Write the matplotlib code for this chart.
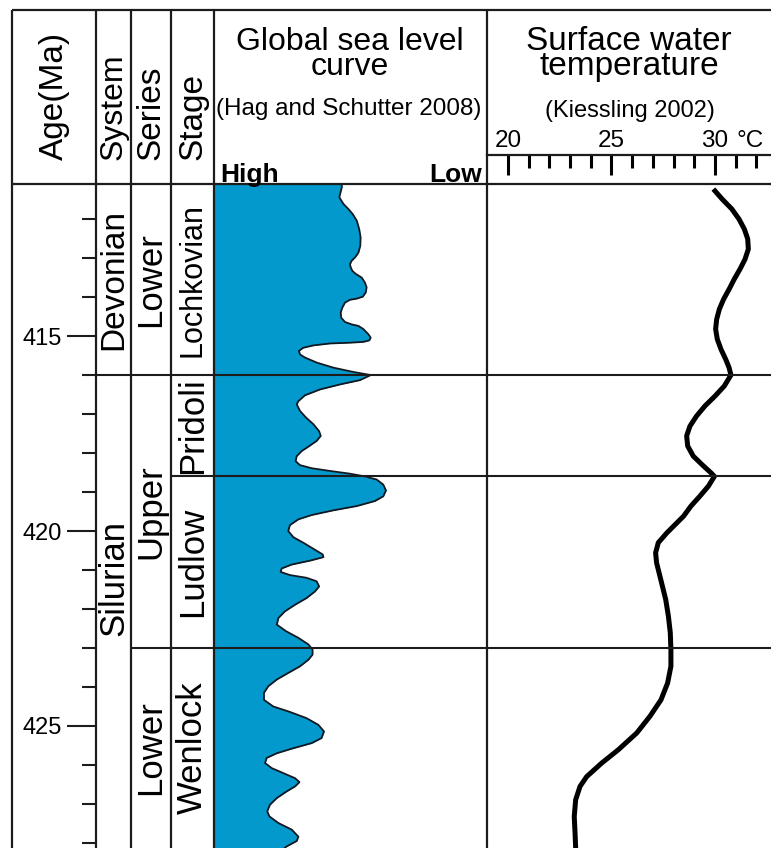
import matplotlib
matplotlib.use("Agg")
import matplotlib.pyplot as plt
from matplotlib.ticker import FixedLocator, MultipleLocator

plt.rcParams['font.family'] = ['Liberation Sans', 'DejaVu Sans']

# ---- data (ages in Ma) ----
age_top = 411.1
age_bottom = 428.13

system_names = ['Devonian', 'Silurian']
system_base = [416.0, 443.7]
series_names = ['Lower', 'Upper', 'Lower']
series_base = [416.0, 423.0, 428.2]
stage_names = ['Lochkovian', 'Pridoli', 'Ludlow', 'Wenlock']
stage_base = [416.0, 418.6, 423.0, 428.2]

# global sea level (0 = high, 100 = low)
sea_age = [411.08, 411.19, 411.44, 411.61, 411.74, 411.87, 412.04, 412.26, 412.47, 412.68,
           412.86, 412.98, 413.07, 413.16, 413.24, 413.33, 413.41, 413.50, 413.63, 413.75,
           413.88, 413.99, 414.04, 414.07, 414.14, 414.27, 414.40, 414.53, 414.64, 414.70,
           414.74, 414.82, 414.95, 415.04, 415.11, 415.15, 415.17, 415.19, 415.24, 415.30,
           415.38, 415.47, 415.55, 415.68, 415.81, 415.92, 416.00, 416.13, 416.24, 416.37,
           416.52, 416.67, 416.75, 416.92, 417.09, 417.26, 417.44, 417.56, 417.69, 417.82,
           417.95, 418.08, 418.21, 418.31, 418.39, 418.46, 418.53, 418.60, 418.68, 418.81,
           418.96, 419.11, 419.23, 419.36, 419.47, 419.59, 419.70, 419.85, 420.00, 420.16,
           420.30, 420.48, 420.60, 420.67, 420.76, 420.86, 420.96, 421.05, 421.13, 421.20,
           421.29, 421.42, 421.55, 421.72, 421.89, 422.06, 422.23, 422.40, 422.57, 422.74,
           422.91, 423.04, 423.17, 423.30, 423.47, 423.64, 423.81, 423.98, 424.15, 424.33,
           424.50, 424.64, 424.80, 424.97, 425.14, 425.31, 425.44, 425.57, 425.70, 425.82,
           425.95, 426.08, 426.21, 426.34, 426.44, 426.55, 426.68, 426.85, 427.02, 427.19,
           427.32, 427.49, 427.66, 427.84, 427.95, 428.09, 428.15]
sea_level = [46.8, 46.8, 45.9, 47.4, 49.2, 50.8, 52.3, 53.2, 53.7, 53.6,
             52.9, 51.7, 50.4, 49.8, 50.1, 50.7, 52.0, 54.1, 55.3, 55.9,
             55.6, 54.5, 52.3, 49.8, 48.0, 47.0, 46.4, 46.6, 48.0, 50.4,
             52.9, 54.7, 56.5, 57.4, 56.9, 54.7, 49.8, 42.5, 36.4, 32.7,
             31.1, 31.5, 33.3, 37.6, 43.7, 51.0, 57.4, 53.5, 46.2, 38.8,
             33.3, 30.9, 30.3, 31.5, 33.7, 36.4, 38.5, 39.1, 37.6, 34.9,
             32.1, 30.3, 29.9, 31.5, 35.8, 42.5, 49.8, 55.3, 59.6, 62.0,
             63.0, 62.0, 59.0, 52.3, 43.7, 35.8, 30.9, 27.8, 27.2, 29.1,
             32.7, 37.0, 39.8, 40.1, 35.2, 28.5, 24.8, 24.4, 27.8, 33.9,
             37.6, 38.5, 37.0, 33.9, 29.7, 26.0, 23.6, 23.0, 26.4, 30.9,
             34.6, 36.1, 36.1, 34.6, 31.5, 27.2, 23.0, 19.9, 18.3, 18.3,
             21.7, 27.8, 33.9, 38.2, 40.3, 39.4, 35.8, 29.1, 23.0, 19.3,
             18.7, 21.1, 25.4, 29.7, 31.3, 29.7, 26.6, 23.0, 20.5, 19.5,
             20.3, 23.6, 28.5, 30.9, 30.3, 26.6, 25.5]

# surface water temperature (deg C)
temp_age = [411.23, 411.49, 411.74, 412.00, 412.26, 412.51, 412.77, 413.03, 413.28, 413.54,
            413.80, 414.05, 414.31, 414.57, 414.82, 415.08, 415.34, 415.60, 415.81, 416.00,
            416.28, 416.54, 416.79, 417.05, 417.31, 417.56, 417.82, 418.08, 418.33, 418.51,
            418.60, 418.85, 419.10, 419.36, 419.62, 420.05, 420.30, 420.56, 420.82, 421.33,
            421.76, 422.19, 422.61, 423.04, 423.47, 423.90, 424.33, 424.75, 425.18, 425.61,
            425.95, 426.30, 426.55, 426.89, 427.32, 427.75, 428.15]
temp_c = [29.92, 30.35, 30.81, 31.16, 31.42, 31.58, 31.61, 31.45, 31.21, 30.93,
          30.68, 30.42, 30.21, 30.08, 30.03, 30.11, 30.29, 30.52, 30.68, 30.77,
          30.45, 30.00, 29.52, 29.11, 28.79, 28.63, 28.68, 28.95, 29.44, 29.81,
          29.97, 29.68, 29.28, 28.84, 28.48, 27.67, 27.26, 27.13, 27.18, 27.42,
          27.62, 27.75, 27.84, 27.87, 27.87, 27.71, 27.39, 26.86, 26.22, 25.33,
          24.53, 23.80, 23.48, 23.27, 23.20, 23.24, 23.27]

temp_ticks = [20, 25, 30]
age_ticks = [415, 420, 425]

# ---- layout (pixels) ----
W, H = 771, 848
TOP, HEAD, BOT = 10, 184, 848
col_x = [12, 96, 131, 171, 214, 487]
LINE = '#1c1c1c'
BLUE = '#0499cd'


def box(x0, y0, x1, y1):
    return [x0 / W, 1 - y1 / H, (x1 - x0) / W, (y1 - y0) / H]


fig = plt.figure(figsize=(W / 100, H / 100), dpi=100)

# stratigraphic columns
ax_st = fig.add_axes(box(96, HEAD, 214, BOT), zorder=2)
ax_st.set_facecolor('none')
ax_st.set_xlim(96, 214)
ax_st.set_ylim(age_bottom, age_top)
for s in ax_st.spines.values():
    s.set_visible(False)
ax_st.set_xticks([])
ax_st.yaxis.set_major_locator(FixedLocator(age_ticks))
ax_st.yaxis.set_minor_locator(MultipleLocator(1))
ax_st.tick_params(axis='y', which='major', direction='out', length=21, width=1.5,
                  color=LINE, labelsize=17, pad=3.5)
ax_st.tick_params(axis='y', which='minor', direction='out', length=10, width=1.5, color=LINE)


def unit_column(names, bases, x0, x1, sizes, label_at=None):
    top = age_top
    for name, base in zip(names, bases):
        if base < age_bottom:
            ax_st.hlines(base, x0, x1, color=LINE, lw=1.5)
        lo, hi = max(top, age_top), min(base, age_bottom)
        mid = (lo + hi) / 2
        if label_at and name in label_at:
            mid = label_at[name]
        ax_st.text((x0 + x1) / 2, mid, name, rotation=90, ha='center', va='center',
                   fontsize=sizes.get(name, 25))
        top = base


unit_column(system_names, system_base, 96, 131, {'Devonian': 24, 'Silurian': 25},
            label_at={'Silurian': 421.2})
unit_column(series_names, series_base, 131, 171, {})
unit_column(stage_names, stage_base, 171, 214, {'Lochkovian': 22})

# sea level panel
ax_sea = fig.add_axes(box(214, HEAD, 487, BOT), zorder=1)
ax_sea.set_xlim(0, 100)
ax_sea.set_ylim(age_bottom, age_top)
ax_sea.fill_betweenx(sea_age, 0, sea_level, color=BLUE, lw=0)
ax_sea.plot(sea_level, sea_age, color='#101820', lw=1.3)
for b in stage_base:
    if b < age_bottom:
        ax_sea.axhline(b, color=LINE, lw=1.5)
ax_sea.axis('off')

# temperature panel
t_lo, t_hi = 18.986, 32.705
ax_t = fig.add_axes(box(487, HEAD, 771, BOT), zorder=1)
ax_t.set_xlim(t_lo, t_hi)
ax_t.set_ylim(age_bottom, age_top)
ax_t.plot(temp_c, temp_age, color='black', lw=3.6, solid_capstyle='butt',
          solid_joinstyle='round')
for b in stage_base:
    if b < age_bottom:
        ax_t.axhline(b, color=LINE, lw=1.5)
ax_t.axis('off')

# temperature scale in header
ax_th = fig.add_axes(box(487, 155, 771, HEAD), zorder=1)
ax_th.set_facecolor('none')
ax_th.set_xlim(t_lo, t_hi)
ax_th.set_yticks([])
for k, s in ax_th.spines.items():
    s.set_visible(k == 'top')
ax_th.spines['top'].set_linewidth(1.6)
ax_th.spines['top'].set_color(LINE)
ax_th.xaxis.set_ticks_position('top')
ax_th.set_xticks(temp_ticks)
ax_th.set_xticklabels([str(t) for t in temp_ticks])
ax_th.xaxis.set_minor_locator(FixedLocator([t for t in range(21, 33) if t not in temp_ticks]))
ax_th.tick_params(axis='x', which='major', direction='in', length=14.5, width=2.2,
                  color='black', labelsize=17.5, pad=2.5, top=True, bottom=False,
                  labeltop=True, labelbottom=False)
ax_th.tick_params(axis='x', which='minor', direction='in', length=9.5, width=2.2,
                  color='black', top=True, bottom=False)

# frame and header texts (pixel coordinates)
fr = fig.add_axes([0, 0, 1, 1], zorder=5)
fr.set_facecolor('none')
fr.set_xlim(0, W)
fr.set_ylim(H, 0)
fr.axis('off')
fr.hlines([TOP, HEAD], col_x[0], W, color=LINE, lw=1.6)
fr.vlines(col_x, TOP, BOT, color=LINE, lw=1.6)

fr.text(54, 160, 'Age(Ma)', rotation=90, ha='center', va='bottom', fontsize=24)
fr.text(113.5, 160, 'System', rotation=90, ha='center', va='bottom', fontsize=23)
fr.text(151, 160, 'Series', rotation=90, ha='center', va='bottom', fontsize=24)
fr.text(192.5, 160, 'Stage', rotation=90, ha='center', va='bottom', fontsize=24)

fr.text(350, 27, 'Global sea level\ncurve', ha='center', va='top', fontsize=23,
        linespacing=0.79, multialignment='center')
fr.text(349, 115, '(Hag and Schutter 2008)', ha='center', va='baseline', fontsize=17.5)
fr.text(220, 182, 'High', ha='left', va='baseline', fontsize=19, fontweight='bold')
fr.text(482, 182, 'Low', ha='right', va='baseline', fontsize=19, fontweight='bold')

fr.text(629, 26, 'Surface water\ntemperature', ha='center', va='top', fontsize=24,
        linespacing=0.75, multialignment='center')
fr.text(630, 117, '(Kiessling 2002)', ha='center', va='baseline', fontsize=17)
fr.text(736, 147, '°C', ha='left', va='baseline', fontsize=17.5)

fig.savefig('out.png', dpi=100)
